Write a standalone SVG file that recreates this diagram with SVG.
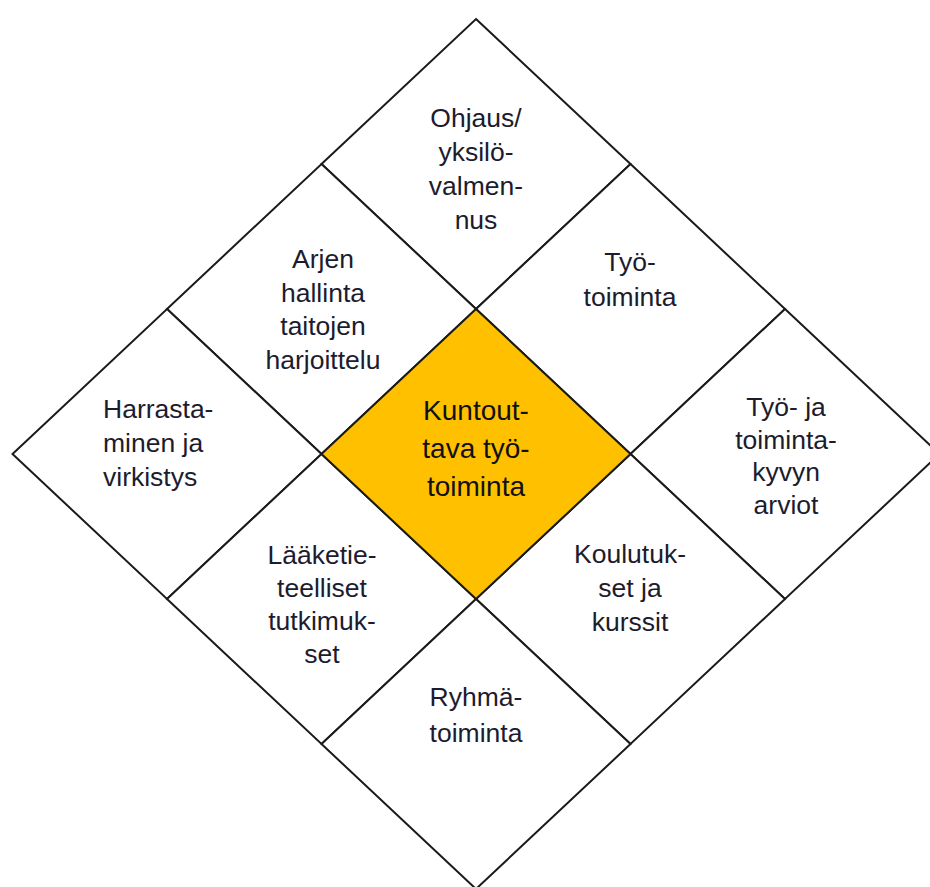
<svg xmlns="http://www.w3.org/2000/svg" width="930" height="887" viewBox="0 0 930 887">
<style>
.cell{fill:#ffffff;stroke:#1a1a1a;stroke-width:2;stroke-linejoin:miter}
.core{fill:#FFC000;stroke:#1a1a1a;stroke-width:2}
.t{font-family:"Liberation Sans",Arial,sans-serif;font-size:26.5px;fill:#1c1c2e;text-anchor:middle}
.tl{text-anchor:start}
.tc{font-size:28px;fill:#111111}
</style>
<rect width="930" height="887" fill="#ffffff"/>
<g id="connectors"></g>
<g id="ohjaus">
<polygon class="cell" points="476,19 630.5,164 476,309 321.5,164"/>
<text class="t" x="476" y="127">Ohjaus/</text>
<text class="t" x="476" y="161">yksilö-</text>
<text class="t" x="476" y="195">valmen-</text>
<text class="t" x="476" y="229">nus</text>
</g>
<g id="arjen">
<polygon class="cell" points="321.5,164 476,309 321.5,454 167,309"/>
<text class="t" x="323" y="268">Arjen</text>
<text class="t" x="323" y="302">hallinta</text>
<text class="t" x="323" y="335">taitojen</text>
<text class="t" x="323" y="369">harjoittelu</text>
</g>
<g id="tyotoiminta">
<polygon class="cell" points="630.5,164 785,309 630.5,454 476,309"/>
<text class="t" x="630" y="271">Työ-</text>
<text class="t" x="630" y="306">toiminta</text>
</g>
<g id="harrastaminen">
<polygon class="cell" points="167,309 321.5,454 167,599 12.5,454"/>
<text class="t tl" x="103" y="418">Harrasta-</text>
<text class="t tl" x="103" y="452">minen ja</text>
<text class="t tl" x="103" y="486">virkistys</text>
</g>
<g id="arviot">
<polygon class="cell" points="785,309 939.5,454 785,599 630.5,454"/>
<text class="t" x="786" y="416">Työ- ja</text>
<text class="t" x="786" y="449">toiminta-</text>
<text class="t" x="786" y="481">kyvyn</text>
<text class="t" x="786" y="514">arviot</text>
</g>
<g id="laaketieteelliset">
<polygon class="cell" points="321.5,454 476,599 321.5,744 167,599"/>
<text class="t" x="322" y="564">Lääketie-</text>
<text class="t" x="322" y="597">teelliset</text>
<text class="t" x="322" y="630">tutkimuk-</text>
<text class="t" x="322" y="663">set</text>
</g>
<g id="koulutukset">
<polygon class="cell" points="630.5,454 785,599 630.5,744 476,599"/>
<text class="t" x="630" y="563">Koulutuk-</text>
<text class="t" x="630" y="597">set ja</text>
<text class="t" x="630" y="631">kurssit</text>
</g>
<g id="ryhmatoiminta">
<polygon class="cell" points="476,599 630.5,744 476,889 321.5,744"/>
<text class="t" x="476" y="706">Ryhmä-</text>
<text class="t" x="476" y="742">toiminta</text>
</g>
<g id="kuntouttava">
<polygon class="core" points="476,309 630.5,454 476,599 321.5,454"/>
<text class="t tc" x="476" y="420">Kuntout-</text>
<text class="t tc" x="476" y="458">tava työ-</text>
<text class="t tc" x="476" y="496">toiminta</text>
</g>
</svg>
